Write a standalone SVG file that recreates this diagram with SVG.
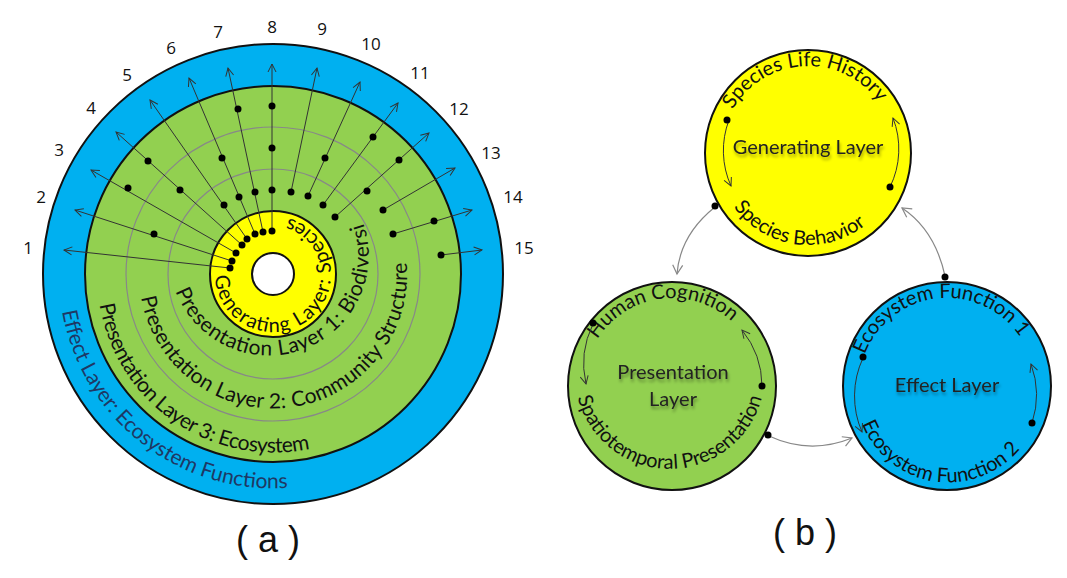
<svg xmlns="http://www.w3.org/2000/svg" width="1067" height="578" viewBox="0 0 1067 578">
<style>
.t{font-family:Lato,"Open Sans",sans-serif;fill:#111}
.n{font-family:"Open Sans",Lato,sans-serif;font-size:17px;fill:#111;text-anchor:middle}
.ring{stroke:#111;stroke-width:2}
.gr{fill:none;stroke:#888;stroke-width:1.2}
.ray{stroke:#333;stroke-width:1;fill:none;marker-end:url(#ah)}
.cn{stroke:#888;stroke-width:1.2;fill:none;marker-end:url(#ah2)}
.ca{stroke:#333;stroke-width:1;fill:none;marker-end:url(#ah)}
.lbl{font-family:"Liberation Sans",sans-serif;font-size:36px;fill:#111;text-anchor:middle}
.ctr{font-family:Lato,"Open Sans",sans-serif;font-size:20px;fill:#222;text-anchor:middle;filter:url(#sh)}
</style>
<defs>
<marker id="ah" markerWidth="10" markerHeight="10" refX="9" refY="5" orient="auto" markerUnits="userSpaceOnUse"><path d="M1,1 L9,5 L1,9" fill="none" stroke="#333" stroke-width="1"/></marker>
<marker id="ah2" markerWidth="12" markerHeight="12" refX="10" refY="6" orient="auto" markerUnits="userSpaceOnUse"><path d="M1,1 L10,6 L1,11" fill="none" stroke="#888" stroke-width="1.2"/></marker>
<filter id="sh" x="-20%" y="-40%" width="140%" height="200%"><feDropShadow dx="1" dy="3" stdDeviation="1.5" flood-color="#000" flood-opacity="0.35"/></filter>
<path id="pGen" d="M215,276 A58 58 0 0 0 331,272 A58 58 0 0 0 215,276"/>
<path id="pL1" d="M175.5,291.2 A99 99 0 1 0 362.2,220"/>
<path id="pL2" d="M141.1,297.3 A134 134 0 1 0 398.9,228.2"/>
<path id="pL3" d="M99.7,304.6 A176 176 0 1 0 446.3,243.4"/>
<path id="pEf" d="M62.2,311.2 A214 214 0 0 0 487,274"/>
<path id="pSLH" d="M732.7,109.5 A87 87 0 0 1 895,153"/>
<path id="pSB" d="M733.6,207 A92 92 0 0 0 879.5,211"/>
<path id="pHC" d="M597.4,339.4 A88 88 0 0 1 760,386"/>
<path id="pSP" d="M577.7,397.6 A95 95 0 0 0 764.6,369.5"/>
<path id="pEF1" d="M864.8,354.5 A88 88 0 0 1 1035,386"/>
<path id="pEF2" d="M862,423.8 A93 93 0 0 0 1035,355"/>
</defs>

<g id="panel-a">
<g id="effect-layer"><circle cx="273" cy="274" r="230" fill="#00b0f0" class="ring"/>
<text class="t" font-size="21"><textPath href="#pEf" style="fill:#1f3864">Effect Layer: Ecosystem Functions</textPath></text></g>
<g id="presentation-layers"><circle cx="273" cy="274" r="188" fill="#92d050" class="ring"/>
<circle cx="273" cy="274" r="147" class="gr"/><circle cx="273" cy="274" r="105" class="gr"/>
<text class="t" font-size="21"><textPath href="#pL3" textLength="285" lengthAdjust="spacing">Presentation Layer 3: Ecosystem</textPath></text>
<text class="t" font-size="21"><textPath href="#pL2" textLength="410" lengthAdjust="spacing">Presentation Layer 2: Community Structure</textPath></text>
<text class="t" font-size="21"><textPath href="#pL1" textLength="330" lengthAdjust="spacing">Presentation Layer 1: Biodiversity</textPath></text></g>
<g id="generating-layer"><circle cx="273" cy="274" r="63" fill="#ffff00" class="ring"/>
<circle cx="273" cy="274" r="21" fill="#fff" stroke="#111" stroke-width="2"/>
<text class="t" font-size="20"><textPath href="#pGen" textLength="255" lengthAdjust="spacing">Generating Layer: Species</textPath></text></g>
<g id="rays">
<path class="ray" d="M230,268 L64,250"/><path class="ray" d="M232,261 L75,210"/><path class="ray" d="M236,253 L91,170"/>
<path class="ray" d="M242,245 L116,132"/><path class="ray" d="M247,239 L150,100"/><path class="ray" d="M255,234 L189,78"/>
<path class="ray" d="M263,232 L228,68"/><path class="ray" d="M272,231 L272,64"/><path class="ray" d="M291,192 L317,68"/>
<path class="ray" d="M308,196 L360,82"/><path class="ray" d="M323,205 L398,103"/><path class="ray" d="M335,217 L429,133"/>
<path class="ray" d="M383,210 L455,168"/><path class="ray" d="M393,234 L472,210"/><path class="ray" d="M441,255 L482,250"/>
</g>
<g id="dots" fill="#000">
<circle cx="230" cy="268" r="3.5"/><circle cx="232" cy="261" r="3.5"/><circle cx="236" cy="253" r="3.5"/><circle cx="242" cy="245" r="3.5"/><circle cx="247" cy="239" r="3.5"/><circle cx="255" cy="234" r="3.5"/><circle cx="263" cy="232" r="3.5"/><circle cx="272" cy="231" r="3.5"/>
<circle cx="154" cy="234" r="3.5"/><circle cx="128" cy="188" r="3.5"/><circle cx="148" cy="161" r="3.5"/><circle cx="180" cy="190" r="3.5"/><circle cx="224" cy="205" r="3.5"/><circle cx="239" cy="197" r="3.5"/><circle cx="222" cy="158" r="3.5"/><circle cx="238" cy="109" r="3.5"/><circle cx="255" cy="192" r="3.5"/><circle cx="272" cy="190" r="3.5"/><circle cx="272" cy="148" r="3.5"/><circle cx="272" cy="106" r="3.5"/><circle cx="291" cy="192" r="3.5"/><circle cx="308" cy="196" r="3.5"/><circle cx="325" cy="158" r="3.5"/><circle cx="323" cy="205" r="3.5"/><circle cx="373" cy="137" r="3.5"/><circle cx="335" cy="217" r="3.5"/><circle cx="367" cy="191" r="3.5"/><circle cx="399" cy="160" r="3.5"/><circle cx="383" cy="210" r="3.5"/><circle cx="393" cy="234" r="3.5"/><circle cx="434" cy="221" r="3.5"/><circle cx="441" cy="255" r="3.5"/>
</g>
<g id="numbers">
<text class="n" x="28" y="254">1</text><text class="n" x="41" y="203">2</text><text class="n" x="59" y="156">3</text><text class="n" x="91" y="114">4</text><text class="n" x="127" y="81">5</text><text class="n" x="171" y="54">6</text><text class="n" x="218" y="38">7</text><text class="n" x="272" y="33">8</text><text class="n" x="322" y="35">9</text><text class="n" x="371" y="50">10</text><text class="n" x="420" y="79">11</text><text class="n" x="459" y="115">12</text><text class="n" x="491" y="159">13</text><text class="n" x="513" y="203">14</text><text class="n" x="524" y="254">15</text>
</g>
<text class="lbl" x="268" y="552">( a )</text>
</g>

<g id="panel-b">
<g id="node-generating"><circle cx="808" cy="153" r="103" fill="#ffff00" class="ring"/>
<text class="ctr" x="808" y="154">Generating Layer</text>
<text class="t" font-size="20"><textPath href="#pSLH">Species Life History</textPath></text>
<text class="t" font-size="20"><textPath href="#pSB">Species Behavior</textPath></text>
<path class="ca" d="M729,120 A86 86 0 0 0 731,186"/><circle cx="727" cy="120" r="3.5"/>
<path class="ca" d="M890,187 A86 86 0 0 0 893,118"/><circle cx="890" cy="187" r="3.5"/></g>
<g id="node-presentation"><circle cx="672" cy="386" r="104" fill="#92d050" class="ring"/>
<text class="ctr" x="673" y="379">Presentation</text><text class="ctr" x="673" y="406">Layer</text>
<text class="t" font-size="20"><textPath href="#pHC">Human Cognition</textPath></text>
<text class="t" font-size="20"><textPath href="#pSP">Spatiotemporal Presentation</textPath></text>
<path class="ca" d="M593,324 A90 90 0 0 0 586,384"/><circle cx="593" cy="323" r="3.5"/>
<path class="ca" d="M762,386 A90 90 0 0 0 742,330"/><circle cx="762" cy="386" r="3.5"/></g>
<g id="node-effect"><circle cx="947" cy="386" r="104" fill="#00b0f0" class="ring"/>
<text class="ctr" x="947" y="392">Effect Layer</text>
<text class="t" font-size="20"><textPath href="#pEF1">Ecosystem Function 1</textPath></text>
<text class="t" font-size="20"><textPath href="#pEF2">Ecosystem Function 2</textPath></text>
<path class="ca" d="M863,358 A90 90 0 0 0 862,432"/><circle cx="863" cy="357" r="3.5"/>
<path class="ca" d="M1032,423 A90 90 0 0 0 1031,364"/><circle cx="1032" cy="423" r="3.5"/></g>
<g id="connectors">
<path class="cn" d="M715,207 Q680,235 677,274"/><circle cx="715" cy="206" r="3.5"/>
<path class="cn" d="M769,436 Q810,455 852,438"/><circle cx="768" cy="435" r="3.5"/>
<path class="cn" d="M945,276 Q935,230 902,208"/><circle cx="945" cy="277" r="3.5"/>
</g>
<text class="lbl" x="805" y="545">( b )</text>
</g>
</svg>
